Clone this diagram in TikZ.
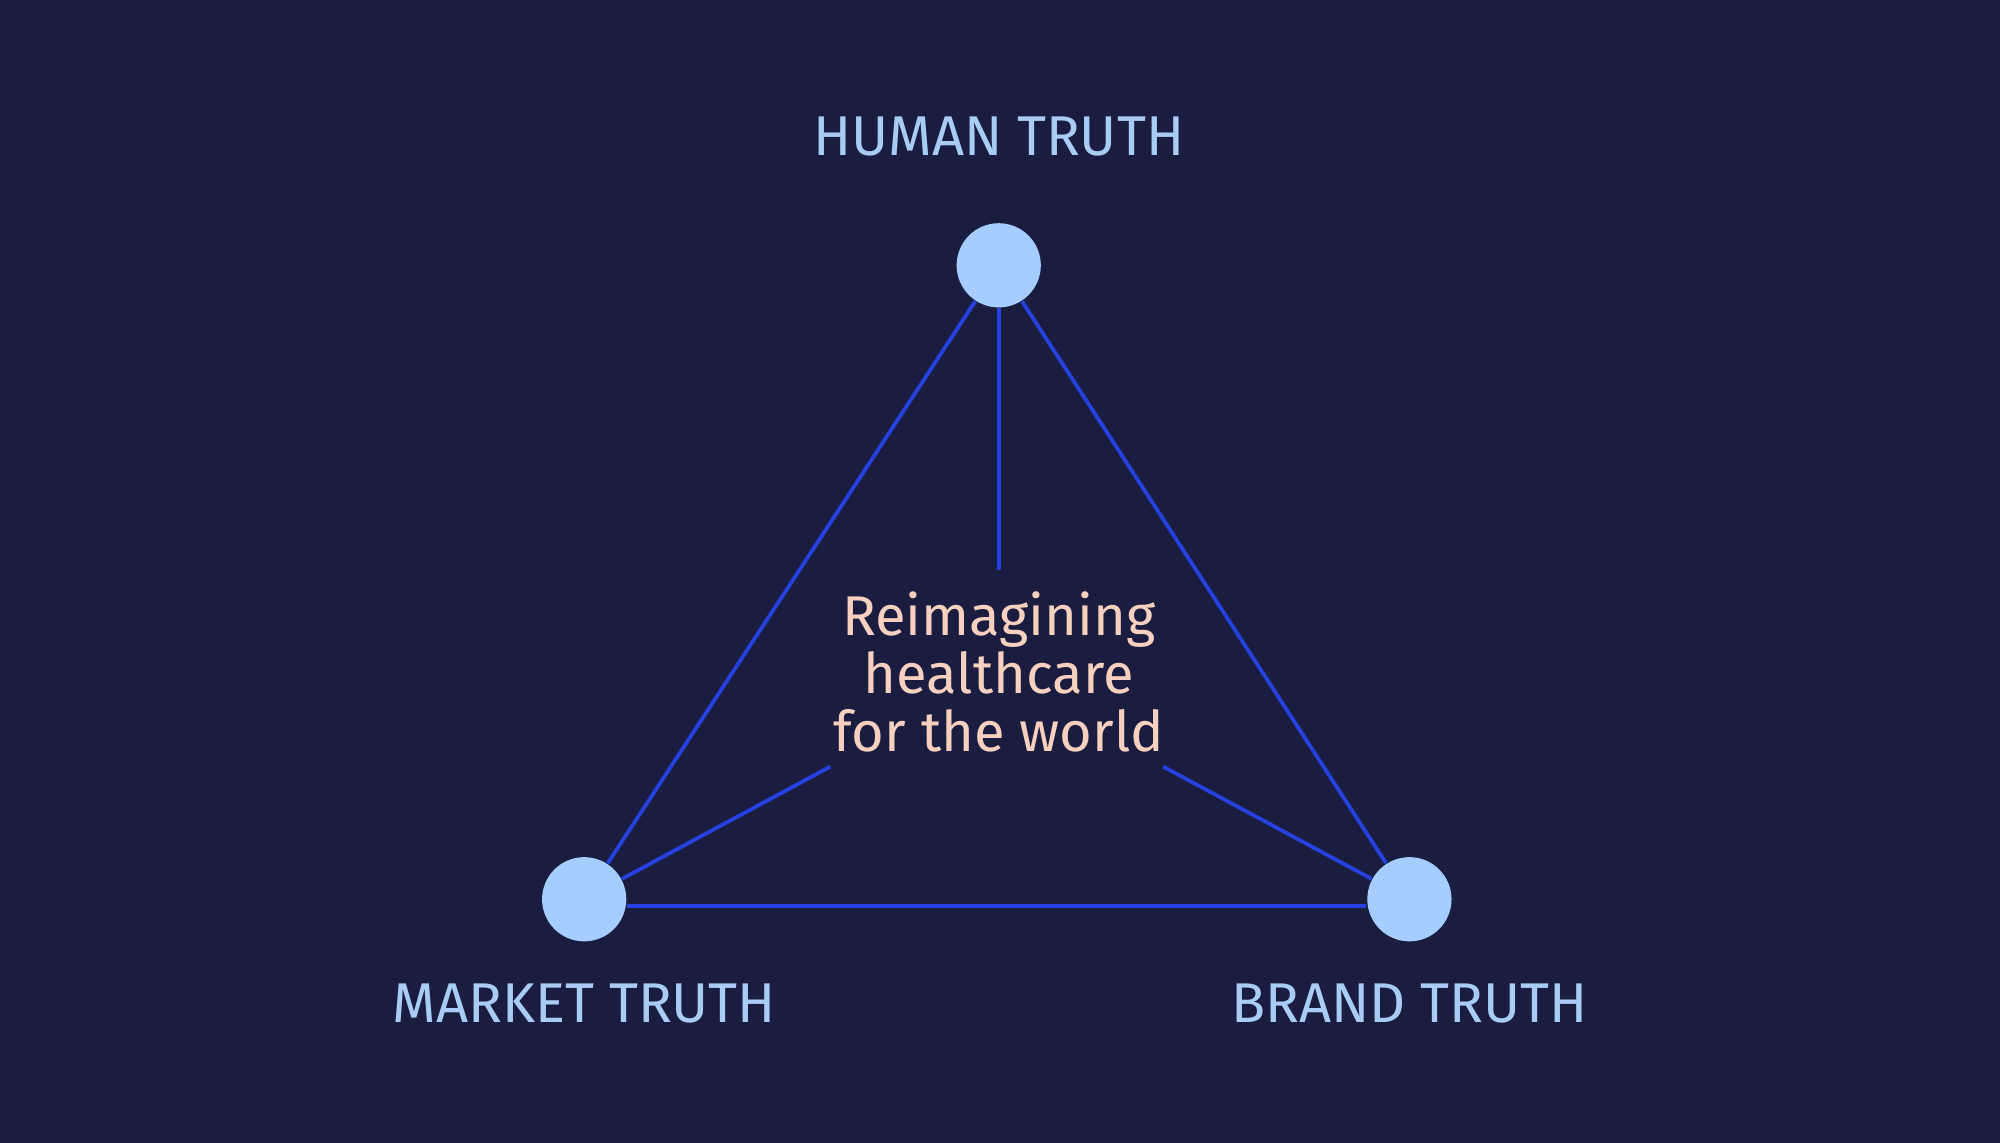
\documentclass[tikz,border=0pt]{standalone}
\usepackage{fontspec}
\setmainfont{Fira Sans}
\usetikzlibrary{positioning}
\definecolor{bgnavy}{HTML}{1A1D3F}
\definecolor{edgeblue}{HTML}{2541E0}
\definecolor{dotblue}{HTML}{A6CDFF}
\definecolor{labelblue}{HTML}{A9CCF5}
\definecolor{peach}{HTML}{F8D0C0}

\begin{document}
\begin{tikzpicture}[
            x=0.01cm, y=-0.01cm,
            truth/.style={circle, fill=dotblue, inner sep=0pt, minimum size=0.66cm},
            label/.style={text=labelblue, font=\fontsize{12.5}{14}\selectfont},
            link/.style={draw=edgeblue, line width=0.85pt}
        ]
        \fill[bgnavy] (0,0) rectangle (1568,896);

        \node[truth] (human) at (783,208) {};
        \node[truth] (market) at (458,705) {};
        \node[truth] (brand) at (1105,705) {};

        \node[label] (humanlbl) at (783,107) {HUMAN TRUTH};
        \node[label] (marketlbl) at (458,787) {MARKET TRUTH};
        \node[label] (brandlbl) at (1105,787) {BRAND TRUTH};

        \node[text=peach, align=center, font=\fontsize{12.5}{12.9}\selectfont] (core) at (783,527)
            {Reimagining\\healthcare\\for the world};

        \coordinate (hubtop) at (783,447);
        \coordinate (hubleft) at (651,601);
        \coordinate (hubright) at (912,601);

        \draw[link] (human) -- (market);
        \draw[link] (human) -- (brand);
        \draw[link] (market.east |- 0,710) -- (brand.west |- 0,710);
        \draw[link] (human) -- (hubtop);
        \draw[link] (market) -- (hubleft);
        \draw[link] (brand) -- (hubright);
\end{tikzpicture}
\end{document}
